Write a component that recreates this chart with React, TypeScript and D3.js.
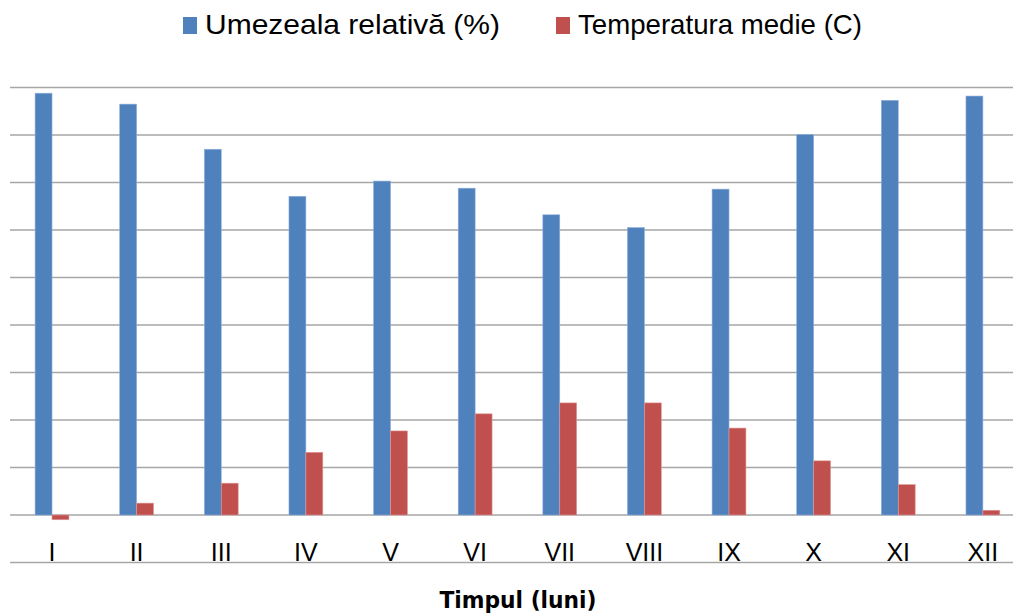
import React, { useEffect, useRef } from "react";
import * as d3 from "d3";

const months = ["I", "II", "III", "IV", "V", "VI", "VII", "VIII", "IX", "X", "XI", "XII"];
const humidity = [88.8, 86.5, 77.0, 67.1, 70.3, 68.8, 63.2, 60.5, 68.6, 80.1, 87.3, 88.2];
const temperature = [-1.0, 2.5, 6.7, 13.2, 17.7, 21.3, 23.6, 23.6, 18.3, 11.4, 6.4, 1.0];
const gridTicks = [-10, 0, 10, 20, 30, 40, 50, 60, 70, 80, 90];
const seriesNames = ["Umezeala relativă (%)", "Temperatura medie (C)"];
const colors = ["#4F81BD", "#C0504D"];

export default function App() {
  const svgRef = useRef<SVGSVGElement>(null);

  useEffect(() => {
    const width = 1013;
    const height = 613;

    const svg = d3.select(svgRef.current).attr("width", width).attr("height", height);
    svg.selectAll("*").remove();

    const xScale = d3.scaleBand().domain(months).range([9.7, 1025.2]).padding(0);
    const yScale = d3.scaleLinear().domain([-10, 90]).range([562.5, 87.5]);
    const barW = xScale.step() * 0.2;

    // gridlines
    svg
      .append("g")
      .selectAll("line")
      .data(gridTicks)
      .enter()
      .append("line")
      .attr("x1", 10)
      .attr("x2", width)
      .attr("y1", (d) => yScale(d))
      .attr("y2", (d) => yScale(d))
      .attr("stroke", "#a6a6a6")
      .attr("stroke-width", 1.6);

    const series = [humidity, temperature];
    series.forEach((values, si) => {
      svg
        .append("g")
        .selectAll("rect")
        .data(values)
        .enter()
        .append("rect")
        .attr("x", (d, i) => xScale(months[i])! + xScale.bandwidth() / 2 - barW + si * barW)
        .attr("y", (d) => yScale(Math.max(0, d)))
        .attr("width", barW)
        .attr("height", (d) => Math.abs(yScale(d) - yScale(0)))
        .attr("fill", colors[si])
        .attr("stroke", si === 0 ? "#8fb0da" : "#e09a98")
        .attr("stroke-width", 0.6);
    });

    // category labels
    svg
      .append("g")
      .selectAll("text")
      .data(months)
      .enter()
      .append("text")
      .attr("x", (d) => xScale(d)! + xScale.bandwidth() / 2)
      .attr("y", 561)
      .attr("text-anchor", "middle")
      .attr("font-family", "Liberation Sans, Arial, sans-serif")
      .attr("font-size", 25)
      .attr("fill", "#000")
      .text((d) => d);

    // axis title
    svg
      .append("text")
      .attr("x", 518)
      .attr("y", 608)
      .attr("text-anchor", "middle")
      .attr("font-family", "DejaVu Sans, Verdana, sans-serif")
      .attr("font-weight", "bold")
      .attr("font-size", 23)
      .attr("textLength", 157)
      .attr("lengthAdjust", "spacingAndGlyphs")
      .text("Timpul  (luni)");

    // legend
    const legendItems = [
      { x: 183, textX: 205, textW: 295 },
      { x: 556, textX: 578, textW: 284 },
    ];
    legendItems.forEach((item, i) => {
      svg
        .append("rect")
        .attr("x", item.x)
        .attr("y", 17)
        .attr("width", 14)
        .attr("height", 17)
        .attr("fill", colors[i]);
      svg
        .append("text")
        .attr("x", item.textX)
        .attr("y", 34)
        .attr("font-family", "Liberation Sans Narrow, Arial Narrow, sans-serif")
        .attr("font-size", 28)
        .attr("textLength", item.textW)
        .attr("lengthAdjust", "spacingAndGlyphs")
        .attr("fill", "#000")
        .text(seriesNames[i]);
    });
  }, []);

  return (
    <div style={{ position: "absolute", left: 0, top: 0 }}>
      <svg ref={svgRef} style={{ display: "block", background: "#fff" }}></svg>
    </div>
  );
}
